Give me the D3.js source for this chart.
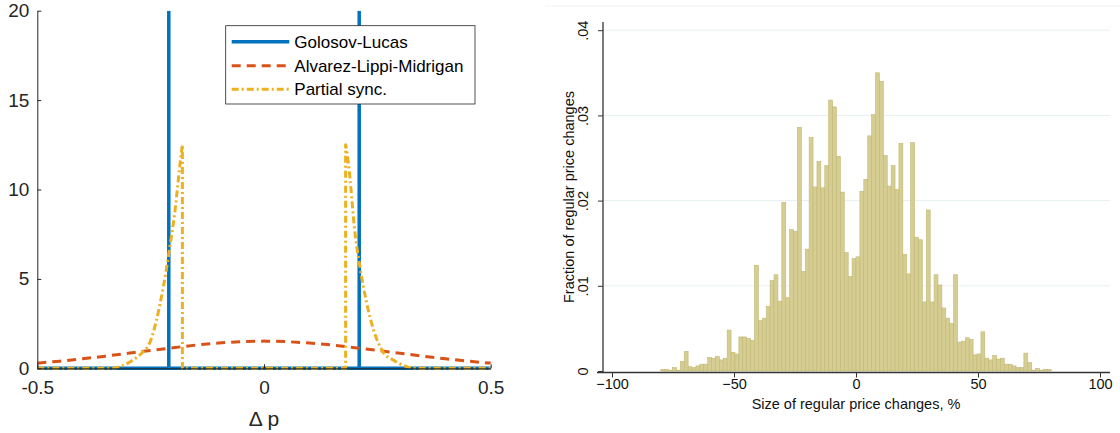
<!DOCTYPE html>
<html><head><meta charset="utf-8">
<script src="https://cdn.jsdelivr.net/npm/d3@7"></script>
<style>html,body{margin:0;padding:0;background:#fff;}svg{display:block;}</style>
</head><body><svg id="c" width="1120" height="433"></svg>
<script>
// ---------- Left panel data (MATLAB) ----------
const glX = [-0.5, -0.21, -0.21, -0.21, 0.21, 0.21, 0.21, 0.5];
const glY = [0, 0, 20, 0, 0, 20, 0, 0];
const almX = [-0.5,-0.45,-0.4,-0.35,-0.3,-0.25,-0.2,-0.15,-0.1,-0.05,0,0.05,0.1,0.15,0.2,0.25,0.3,0.35,0.4,0.45,0.5];
const almY = [0.29,0.40,0.53,0.68,0.84,1.00,1.15,1.30,1.41,1.49,1.52,1.49,1.41,1.30,1.15,1.00,0.84,0.68,0.53,0.40,0.29];
const psX = [-0.5,-0.34,-0.318,-0.289,-0.270,-0.251,-0.237,-0.222,-0.207,-0.197,-0.185,-0.180,-0.180,0.180,0.180,0.186,0.201,0.212,0.226,0.241,0.263,0.285,0.314,0.33,0.5];
const psY = [0,0,0.09,0.46,0.84,1.49,2.70,4.56,6.9,8.67,11.47,12.5,0,0,12.5,11.5,7.5,5.6,3.7,2.2,0.9,0.46,0.1,0,0];
const leftXTicks = [-0.5, 0, 0.5];
const leftXTickLabels = ["-0.5", "0", "0.5"];
const leftYTicks = [0, 5, 10, 15, 20];
const legendLabels = ["Golosov-Lucas", "Alvarez-Lippi-Midrigan", "Partial sync."];

// ---------- Right panel data (Stata histogram) ----------
const binStart = -80, binWidth = 1.6;
const binFractions = [
0.0002,0.0002,0.0001,0.0004,0.0001,0.0011,0.0023,0.0005,0.0004,0.0006,
0.0008,0.0008,0.0016,0.0015,0.0017,0.0013,0.0015,0.0048,0.0022,0.0020,
0.0040,0.0040,0.0038,0.0036,0.0124,0.0059,0.0062,0.0076,0.0106,0.0113,
0.0082,0.0198,0.0086,0.0166,0.0164,0.0286,0.0117,0.0143,0.0274,0.0216,
0.0246,0.0215,0.0241,0.0318,0.0310,0.0252,0.0210,0.0139,0.0111,0.0132,
0.0134,0.0211,0.0225,0.0276,0.0301,0.0350,0.0340,0.0253,0.0217,0.0241,
0.0213,0.0267,0.0137,0.0114,0.0268,0.0157,0.0154,0.0081,0.0189,0.0081,
0.0113,0.0101,0.0074,0.0062,0.0056,0.0113,0.0034,0.0035,0.0039,0.0037,
0.0019,0.0020,0.0046,0.0015,0.0013,0.0018,0.0014,0.0015,0.0008,0.0008,
0.0006,0.0004,0.0004,0.0021,0.0010,0.0001,0.0003,0.0001,0.0002,0.0002];
const rightXTicks = [-100, -50, 0, 50, 100];
const rightYTicks = [0, 0.01, 0.02, 0.03, 0.04];
const rightYTickLabels = ["0", ".01", ".02", ".03", ".04"];

const svg = d3.select("#c");
svg.append("rect").attr("width",1120).attr("height",433).attr("fill","#fff");
const FONT = "'Liberation Sans',Arial,sans-serif";

// ================= LEFT PANEL =================
const lx = d3.scaleLinear().domain([-0.5,0.5]).range([37.3,490.7]);
const ly = d3.scaleLinear().domain([0,20]).range([368.3,10.7]);
const L = svg.append("g");
L.append("clipPath").attr("id","lclip").append("rect")
  .attr("x",lx(-0.5)-3).attr("y",ly(20)).attr("width",lx(0.5)-lx(-0.5)+6).attr("height",ly(0)-ly(20)+3);
const lines = L.append("g").attr("clip-path","url(#lclip)");
const C_BLUE="#0072BD", C_RED="#D95319", C_YEL="#EDB120";
const lin = d3.line().x(d=>lx(d[0])).y(d=>ly(d[1]));
const smooth = d3.line().x(d=>lx(d[0])).y(d=>ly(d[1])).curve(d3.curveMonotoneX);
lines.append("path").datum(glX.map((x,i)=>[x,glY[i]])).attr("d",lin)
  .attr("fill","none").attr("stroke",C_BLUE).attr("stroke-width",3.5);
lines.append("path").datum(almX.map((x,i)=>[x,almY[i]])).attr("d",smooth)
  .attr("fill","none").attr("stroke",C_RED).attr("stroke-width",3).attr("stroke-dasharray","9,6");
// partial sync: smooth tails, straight drops/baseline between the peaks
const ps = psX.map((x,i)=>[x,psY[i]]);
const psPath = smooth(ps.slice(0,12)) + lin(ps.slice(11,15)).replace(/^M/,"L") + smooth(ps.slice(14)).replace(/^M/,"L");
lines.append("path").attr("d",psPath)
  .attr("fill","none").attr("stroke",C_YEL).attr("stroke-width",3).attr("stroke-dasharray","7,3,2,3")
  .attr("stroke-linejoin","round");

// axes
const axCol="#262626";
const xAxL = d3.axisBottom(lx).tickValues(leftXTicks).tickFormat((d,i)=>leftXTickLabels[i]).tickSizeInner(-4).tickSizeOuter(0).tickPadding(12);
const gxl = L.append("g").attr("transform",`translate(0,${ly(0)})`).call(xAxL);
const yAxL = d3.axisLeft(ly).tickValues(leftYTicks).tickSizeInner(-4).tickSizeOuter(0).tickPadding(8);
const gyl = L.append("g").attr("transform",`translate(${lx(-0.5)},0)`).call(yAxL);
[gxl,gyl].forEach(g=>{
  g.select(".domain").attr("stroke",axCol).attr("stroke-width",1);
  g.selectAll(".tick line").attr("stroke",axCol).attr("stroke-width",1);
  g.selectAll(".tick text").attr("fill",axCol).style("font-family",FONT).style("font-size","19px");
});
L.append("text").attr("x",lx(0)).attr("y",426).attr("text-anchor","middle")
  .attr("fill",axCol).style("font-family",FONT).style("font-size","21px").text("Δ p");

// legend
const lg = L.append("g");
lg.append("rect").attr("x",225.7).attr("y",25.7).attr("width",249.3).attr("height",78.3)
  .attr("fill","#fff").attr("stroke",axCol).attr("stroke-width",0.8);
const legStyles = [
  {c:C_BLUE,w:3.5,d:null},{c:C_RED,w:3,d:"9,6"},{c:C_YEL,w:3,d:"7,3,2,3"}];
const rowsY = [41.7, 65.7, 89.3];
legendLabels.forEach((t,i)=>{
  lg.append("line").attr("x1",231.7).attr("x2",289.3).attr("y1",rowsY[i]).attr("y2",rowsY[i])
    .attr("stroke",legStyles[i].c).attr("stroke-width",legStyles[i].w)
    .attr("stroke-dasharray",legStyles[i].d);
  lg.append("text").attr("x",294.3).attr("y",rowsY[i]+6).attr("fill","#000")
    .style("font-family",FONT).style("font-size","17px").text(t);
});

// ================= RIGHT PANEL =================
const rx = d3.scaleLinear().domain([-100,100]).range([612,1100]);
const ry = d3.scaleLinear().domain([0,0.04]).range([371,30.2]);
const R = svg.append("g");
R.append("line").attr("x1",545).attr("x2",1120).attr("y1",6).attr("y2",6).attr("stroke","#eef3f5").attr("stroke-width",1);
// gridlines
R.append("g").selectAll("line").data(rightYTicks.slice(1)).join("line")
  .attr("x1",603).attr("x2",1110).attr("y1",d=>ry(d)).attr("y2",d=>ry(d))
  .attr("stroke","#e6eff1").attr("stroke-width",1);
// bars
R.append("g").selectAll("rect").data(binFractions).join("rect")
  .attr("x",(d,i)=>rx(binStart+i*binWidth))
  .attr("width",(d,i)=>rx(binStart+(i+1)*binWidth)-rx(binStart+i*binWidth))
  .attr("y",d=>ry(d)).attr("height",d=>ry(0)-ry(d))
  .attr("fill","#d5cd91").attr("stroke","#c1b876").attr("stroke-width",0.6);
// axes
const rCol="#333";
R.append("line").attr("x1",597).attr("x2",1110).attr("y1",372.5).attr("y2",372.5).attr("stroke",rCol).attr("stroke-width",1.3);
R.append("line").attr("x1",603).attr("x2",603).attr("y1",22).attr("y2",372.5).attr("stroke",rCol).attr("stroke-width",1.3);
const xAxR = d3.axisBottom(rx).tickValues(rightXTicks).tickFormat(d3.format("d")).tickSize(5).tickPadding(1);
const gxr = R.append("g").attr("transform","translate(0,372.5)").call(xAxR);
gxr.select(".domain").remove();
const yAxR = d3.axisLeft(ry).tickValues(rightYTicks).tickFormat((d,i)=>rightYTickLabels[i]).tickSize(5).tickPadding(3);
const gyr = R.append("g").attr("transform","translate(603,0)").call(yAxR);
gyr.select(".domain").remove();
[gxr,gyr].forEach(g=>{
  g.selectAll(".tick line").attr("stroke",rCol).attr("stroke-width",1);
  g.selectAll(".tick text").attr("fill","#111").style("font-family",FONT).style("font-size","14.5px");
});
gyr.selectAll(".tick text").attr("text-anchor","middle").attr("dy",null)
  .attr("transform","translate(-15,0) rotate(-90)")
  .attr("x",0).attr("y",0);
R.append("text").attr("x",rx(0)).attr("y",409).attr("text-anchor","middle").attr("fill","#111")
  .style("font-family",FONT).style("font-size","14.5px").text("Size of regular price changes, %");
R.append("text").attr("transform",`translate(574,${197}) rotate(-90)`).attr("text-anchor","middle").attr("fill","#111")
  .style("font-family",FONT).style("font-size","14.5px").text("Fraction of regular price changes");
</script></body></html>
